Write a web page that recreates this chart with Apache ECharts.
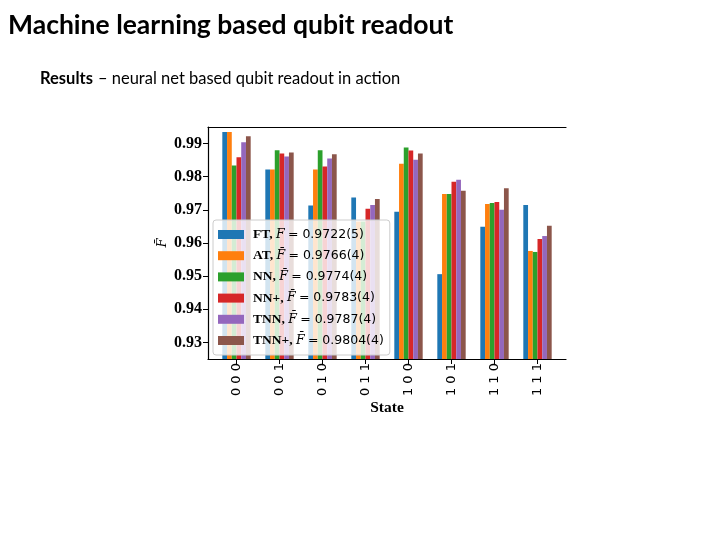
<!DOCTYPE html>
<html>
<head>
<meta charset="utf-8">
<script src="https://cdn.jsdelivr.net/npm/echarts@6/dist/echarts.min.js"></script>
<style>
html,body{margin:0;padding:0;background:#fff;}
#chart{width:720px;height:540px;}
</style>
</head>
<body>
<div id="chart"></div>
<script>
// ---- data ----
const categories = ['0 0 0','0 0 1','0 1 0','0 1 1','1 0 0','1 0 1','1 1 0','1 1 1'];
const seriesNames = ['FT','AT','NN','NN+','TNN','TNN+'];
const meanLabels = ['0.9722(5)','0.9766(4)','0.9774(4)','0.9783(4)','0.9787(4)','0.9804(4)'];
const FT   = [0.9935,0.9822,0.9713,0.9737,0.9694,0.9506,0.9649,0.9715];
const AT   = [0.9935,0.9822,0.9822,0.9665,0.9839,0.9748,0.9718,0.9576];
const NN   = [0.9834,0.9880,0.9880,0.9665,0.9888,0.9748,0.9721,0.9573];
const NNp  = [0.9859,0.9870,0.9831,0.9703,0.9879,0.9785,0.9724,0.9612];
const TNN  = [0.9904,0.9861,0.9855,0.9715,0.9851,0.9791,0.9700,0.9621];
const TNNp = [0.9922,0.9873,0.9868,0.9733,0.9870,0.9758,0.9765,0.9652];
const yTicks = [0.93,0.94,0.95,0.96,0.97,0.98,0.99];
const yMin = 0.925, yMax = 0.995;

const allData = [FT, AT, NN, NNp, TNN, TNNp];
const colors = ['#1f77b4','#ff7f0e','#2ca02c','#d62728','#9467bd','#8c564b'];

const chart = echarts.init(document.getElementById('chart'), null, {renderer:'canvas'});

const series = seriesNames.map((n, i) => ({
  name: n,
  type: 'bar',
  xAxisIndex: 0,
  yAxisIndex: 0,
  data: allData[i],
  barWidth: '11%',
  barGap: '0%',
  itemStyle: {color: colors[i]},
  clip: true,
  silent: true
}));

const option = {
  animation: false,
  backgroundColor: '#fff',
  title: [
    {
      text: 'Machine learning based qubit readout',
      left: 3, top: 7,
      textStyle: {fontFamily: 'Lato', fontWeight: 'bold', fontSize: 26.5, color: '#000'}
    },
    {
      text: '{b|Results} {r|– neural net based qubit readout in action}',
      left: 35, top: 65,
      textStyle: {
        rich: {
          b: {fontFamily: 'Lato', fontWeight: 'bold', fontSize: 16.5, color: '#000'},
          r: {fontFamily: 'Lato', fontWeight: 'normal', fontSize: 16.5, color: '#000'}
        }
      }
    }
  ],
  legend: {
    data: seriesNames,
    orient: 'vertical',
    left: 213, top: 220,
    itemWidth: 26, itemHeight: 9,
    itemGap: 6.2,
    padding: [7, 6, 7, 5],
    backgroundColor: 'rgba(255,255,255,0.8)',
    borderColor: '#cccccc',
    borderWidth: 1,
    borderRadius: 3,
    icon: 'rect',
    selectedMode: false,
    formatter: function (name) {
      const i = seriesNames.indexOf(name);
      const fsym = i === 0 ? 'F' : 'F\u0304';
      return '{b|' + name + ',} {i|' + fsym + '} {n|= ' + meanLabels[i] + '}';
    },
    textStyle: {
      rich: {
        b: {fontFamily: 'Liberation Serif', fontWeight: 'bold', fontSize: 13.5, color: '#000', height: 15, lineHeight: 15, padding: [0, 0, 0, 4]},
        i: {fontFamily: 'DejaVu Serif', fontStyle: 'italic', fontSize: 12.5, color: '#000', height: 15, lineHeight: 15},
        n: {fontFamily: 'DejaVu Sans', fontSize: 12.5, color: '#000', height: 15, lineHeight: 15}
      }
    }
  },
  grid: [
    {left: 215, width: 344, top: 127, height: 232, containLabel: false},
    {left: 208, width: 358, top: 127, height: 232, containLabel: false}
  ],
  xAxis: [
    {
      type: 'category', gridIndex: 0, data: categories,
      boundaryGap: true,
      axisLine: {show: false},
      axisTick: {show: true, alignWithLabel: true, length: 5, lineStyle: {color: '#000', width: 1}},
      axisLabel: {
        rotate: 90, margin: 4, color: '#000',
        fontFamily: 'DejaVu Sans', fontSize: 13
      },
      name: 'State', nameLocation: 'middle', nameGap: 40,
      nameTextStyle: {fontFamily: 'Liberation Serif', fontWeight: 'bold', fontSize: 15.5, color: '#000'},
      splitLine: {show: false}
    },
    {
      type: 'value', gridIndex: 1, min: 0, max: 1, position: 'bottom',
      axisLine: {show: true, onZero: false, lineStyle: {color: '#000', width: 1.2}},
      axisTick: {show: false}, axisLabel: {show: false}, splitLine: {show: false}
    },
    {
      type: 'value', gridIndex: 1, min: 0, max: 1, position: 'top',
      axisLine: {show: true, onZero: false, lineStyle: {color: '#000', width: 1.2}},
      axisTick: {show: false}, axisLabel: {show: false}, splitLine: {show: false}
    }
  ],
  yAxis: [
    {
      type: 'value', gridIndex: 0, min: yMin, max: yMax,
      offset: 7,
      axisLine: {show: false},
      axisTick: {show: true, length: 5, customValues: yTicks, lineStyle: {color: '#000', width: 1}},
      axisLabel: {
        customValues: yTicks, margin: 6, color: '#000',
        fontFamily: 'Liberation Serif', fontWeight: 'bold', fontSize: 16,
        formatter: v => v.toFixed(2)
      },
      splitLine: {show: false},
      name: 'F\u0304', nameLocation: 'middle', nameGap: 39, nameRotate: 90,
      nameTextStyle: {fontFamily: 'DejaVu Serif', fontStyle: 'italic', fontSize: 13, color: '#000'}
    },
    {
      type: 'value', gridIndex: 1, min: 0, max: 1, position: 'left',
      axisLine: {show: true, onZero: false, lineStyle: {color: '#000', width: 1.2}},
      axisTick: {show: false}, axisLabel: {show: false}, splitLine: {show: false}
    }
  ],
  series: series
};

chart.setOption(option);
</script>
</body>
</html>
